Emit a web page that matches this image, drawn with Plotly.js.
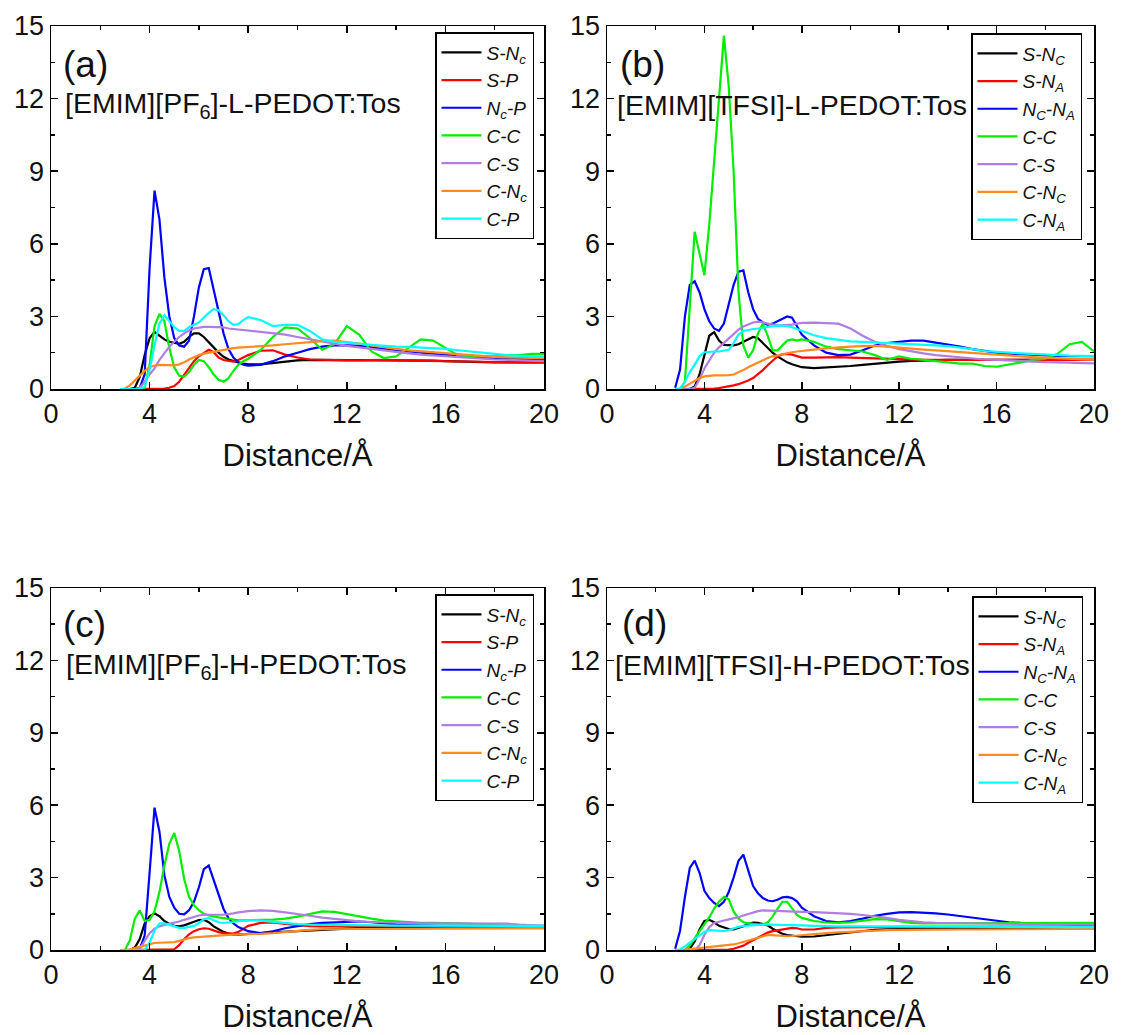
<!DOCTYPE html>
<html>
<head>
<meta charset="utf-8">
<script src="https://cdn.plot.ly/plotly-3.0.1.min.js"></script>
<style>html,body{margin:0;padding:0;background:#fff;}#chart{width:1121px;height:1035px;}</style>
</head>
<body>
<div id="chart"></div>
<script>
// Distance grid (Å)
const distance = [2.8,3.0,3.2,3.4,3.6,3.8,4.0,4.2,4.4,4.6,4.8,5.0,5.2,5.4,5.6,5.8,6.0,6.2,6.4,6.6,6.8,7.0,7.2,7.4,7.6,7.8,8.0,
  8.5,9,9.5,10,10.5,11,11.5,12,12.5,13,13.5,14,14.5,15,15.5,16,16.5,17,17.5,18,18.5,19,19.5,20];

// Panel (a) [EMIM][PF6]-L-PEDOT:Tos
const a_SNc = [0,0,0,0.05,0.5,1.4,2.1,2.35,2.2,2.05,1.95,1.9,1.87,1.95,2.15,2.3,2.3,2.15,1.95,1.72,1.5,1.33,1.22,1.15,1.1,1.05,1.02,
  1.02,1.08,1.15,1.18,1.2,1.2,1.2,1.2,1.2,1.2,1.2,1.2,1.19,1.18,1.17,1.15,1.13,1.12,1.11,1.1,1.1,1.1,1.1,1.1];
const a_SP = [0,0,0,0,0,0,0,0,0,0.02,0.05,0.12,0.3,0.6,0.9,1.15,1.35,1.5,1.62,1.52,1.3,1.2,1.15,1.13,1.2,1.3,1.4,
  1.58,1.6,1.42,1.3,1.22,1.2,1.18,1.18,1.18,1.2,1.2,1.18,1.17,1.16,1.15,1.14,1.13,1.12,1.12,1.11,1.1,1.1,1.1,1.1];
const a_NcP = [0,0,0,0,0.05,0.6,5.0,8.2,7.0,4.6,3.0,2.1,1.8,1.75,2.0,3.0,4.2,4.95,5.0,4.1,3.2,2.3,1.65,1.3,1.1,1.0,0.97,
  1.0,1.15,1.35,1.5,1.65,1.75,1.8,1.8,1.78,1.72,1.65,1.6,1.55,1.5,1.45,1.4,1.35,1.32,1.3,1.28,1.25,1.22,1.2,1.2];
const a_CC = [0,0,0,0,0,0.05,1.0,2.6,3.1,2.8,1.7,0.9,0.55,0.5,0.7,1.0,1.2,1.15,0.9,0.6,0.38,0.3,0.45,0.75,1.0,1.15,1.25,
  1.6,2.15,2.55,2.5,2.1,1.62,1.85,2.6,2.25,1.55,1.28,1.35,1.7,2.05,2.0,1.7,1.4,1.35,1.35,1.35,1.4,1.4,1.45,1.45];
const a_CS = [0,0,0,0,0.05,0.3,0.6,0.85,1.2,1.5,1.75,1.95,2.15,2.3,2.42,2.5,2.55,2.57,2.57,2.56,2.56,2.55,2.5,2.48,2.45,2.42,2.42,
  2.38,2.32,2.25,2.15,2.05,1.95,1.85,1.78,1.72,1.65,1.58,1.52,1.47,1.42,1.38,1.35,1.32,1.28,1.25,1.22,1.2,1.18,1.17,1.15];
const a_CNc = [0,0.02,0.15,0.35,0.55,0.75,0.9,0.97,1.0,1.0,0.98,0.98,1.02,1.1,1.22,1.32,1.4,1.46,1.5,1.55,1.6,1.63,1.66,1.69,1.71,1.72,1.73,
  1.76,1.8,1.85,1.9,1.95,1.98,2.0,1.95,1.88,1.8,1.72,1.66,1.6,1.56,1.5,1.46,1.42,1.38,1.35,1.33,1.31,1.3,1.28,1.27];
const a_CP = [0,0,0,0,0,0.1,0.8,1.8,2.7,3.05,2.8,2.55,2.4,2.4,2.55,2.65,2.75,2.95,3.15,3.3,3.25,3.05,2.8,2.65,2.68,2.85,2.97,
  2.85,2.6,2.65,2.65,2.4,2.05,1.95,1.92,1.88,1.82,1.78,1.75,1.74,1.72,1.7,1.66,1.6,1.56,1.5,1.45,1.4,1.37,1.35,1.33];

// Panel (b) [EMIM][TFSI]-L-PEDOT:Tos
const b_SNc = [0,0,0,0,0.1,0.6,1.4,2.2,2.35,2.0,1.82,1.8,1.8,1.85,1.95,2.05,2.15,2.1,1.9,1.7,1.5,1.35,1.22,1.1,1.02,0.95,0.9,
  0.86,0.88,0.92,0.95,1.0,1.05,1.1,1.13,1.16,1.18,1.2,1.2,1.2,1.2,1.2,1.2,1.2,1.2,1.2,1.2,1.2,1.2,1.2,1.2];
const b_SNa = [0,0,0,0,0,0,0,0.01,0.02,0.04,0.07,0.1,0.15,0.2,0.27,0.35,0.45,0.6,0.78,0.98,1.18,1.35,1.43,1.45,1.42,1.35,1.3,
  1.3,1.32,1.32,1.3,1.28,1.27,1.25,1.22,1.2,1.2,1.2,1.2,1.2,1.2,1.2,1.2,1.2,1.2,1.2,1.2,1.2,1.2,1.2,1.2];
const b_NcNa = [0.05,0.8,3.0,4.3,4.45,4.0,3.3,2.8,2.5,2.4,2.7,3.5,4.3,4.85,4.9,4.0,3.3,2.9,2.75,2.65,2.7,2.8,2.9,3.0,2.95,2.6,2.25,
  1.8,1.5,1.4,1.42,1.6,1.8,1.9,1.95,2.0,2.0,1.92,1.85,1.75,1.65,1.56,1.5,1.46,1.43,1.4,1.38,1.37,1.36,1.36,1.36];
const b_CC = [0,0,0.3,3.5,6.5,5.6,4.7,6.8,9.5,12.3,14.6,12.5,9.0,4.0,1.8,1.3,1.6,2.3,2.7,2.2,1.6,1.6,1.8,2.0,2.05,2.0,2.05,
  1.95,1.75,1.65,1.6,1.55,1.4,1.2,1.35,1.25,1.2,1.15,1.07,1.05,1.05,0.95,0.92,1.0,1.1,1.2,1.25,1.45,1.85,1.95,1.55];
const b_CS = [0,0,0,0,0.05,0.4,0.85,1.2,1.5,1.72,1.9,2.1,2.3,2.45,2.58,2.68,2.75,2.78,2.76,2.7,2.65,2.63,2.63,2.64,2.66,2.7,2.73,
  2.74,2.73,2.7,2.5,2.2,1.95,1.78,1.65,1.55,1.47,1.4,1.35,1.3,1.25,1.22,1.2,1.17,1.15,1.13,1.11,1.1,1.08,1.07,1.06];
const b_CNc = [0,0.02,0.1,0.22,0.35,0.45,0.52,0.55,0.56,0.56,0.56,0.57,0.6,0.68,0.78,0.9,1.0,1.1,1.2,1.28,1.35,1.4,1.45,1.48,1.52,1.55,1.58,
  1.63,1.68,1.73,1.75,1.77,1.78,1.75,1.7,1.67,1.63,1.6,1.56,1.53,1.5,1.46,1.42,1.38,1.35,1.32,1.29,1.26,1.24,1.22,1.2];
const b_CNa = [0,0.02,0.3,0.7,1.0,1.35,1.52,1.55,1.55,1.55,1.57,1.62,1.9,2.25,2.4,2.45,2.48,2.5,2.54,2.58,2.6,2.62,2.62,2.6,2.55,2.48,2.38,
  2.22,2.1,2.02,1.97,1.95,1.93,1.9,1.88,1.85,1.82,1.8,1.77,1.72,1.65,1.57,1.52,1.5,1.47,1.44,1.42,1.4,1.38,1.37,1.36];

// Panel (c) [EMIM][PF6]-H-PEDOT:Tos
const c_SNc = [0,0,0,0.1,0.45,1.1,1.4,1.52,1.4,1.2,1.08,1.0,0.98,1.02,1.1,1.18,1.24,1.25,1.15,0.98,0.85,0.75,0.68,0.64,0.64,0.66,0.68,
  0.7,0.73,0.76,0.79,0.82,0.85,0.88,0.9,0.92,0.94,0.95,0.96,0.96,0.97,0.97,0.97,0.97,0.97,0.97,0.97,0.97,0.97,0.97,0.97];
const c_SP = [0,0,0,0,0,0,0,0,0,0,0,0.03,0.2,0.45,0.65,0.78,0.86,0.9,0.88,0.8,0.74,0.7,0.68,0.68,0.75,0.88,1.0,
  1.12,1.14,1.08,1.02,0.99,0.98,0.98,0.98,0.98,0.98,0.98,0.98,0.98,0.98,0.98,0.98,0.98,0.98,0.98,0.98,0.98,0.98,0.98,0.98];
const c_NcP = [0,0,0,0,0.05,0.6,3.2,5.9,4.9,3.1,2.2,1.75,1.5,1.48,1.65,2.0,2.6,3.35,3.5,2.9,2.3,1.7,1.32,1.1,0.95,0.85,0.78,
  0.7,0.77,0.9,1.0,1.07,1.12,1.15,1.18,1.18,1.15,1.1,1.06,1.04,1.02,1.01,1.0,1.0,1.0,1.0,1.0,1.0,1.0,1.0,1.0];
const c_CC = [0,0,0.4,1.3,1.65,1.2,1.25,1.6,2.4,3.5,4.4,4.85,4.1,2.95,2.2,1.85,1.65,1.5,1.43,1.38,1.35,1.32,1.28,1.25,1.23,1.23,1.24,
  1.25,1.26,1.3,1.38,1.5,1.6,1.58,1.48,1.38,1.3,1.22,1.18,1.15,1.13,1.12,1.12,1.1,1.08,1.05,1.02,1.0,0.97,0.94,0.92];
const c_CS = [0,0,0,0,0.05,0.4,0.7,0.88,0.98,1.04,1.08,1.12,1.18,1.25,1.32,1.38,1.43,1.46,1.47,1.47,1.46,1.46,1.48,1.52,1.56,1.59,1.61,
  1.64,1.62,1.56,1.5,1.42,1.34,1.28,1.22,1.19,1.16,1.14,1.12,1.11,1.1,1.1,1.1,1.1,1.1,1.09,1.09,1.09,1.05,1.02,1.0];
const c_CNc = [0,0,0.02,0.08,0.13,0.18,0.25,0.29,0.3,0.3,0.31,0.33,0.38,0.44,0.49,0.52,0.54,0.56,0.58,0.6,0.61,0.62,0.63,0.64,0.64,0.65,0.65,
  0.67,0.7,0.75,0.79,0.83,0.86,0.87,0.87,0.87,0.87,0.87,0.87,0.87,0.88,0.88,0.88,0.88,0.89,0.89,0.89,0.9,0.9,0.9,0.9];
const c_CP = [0,0,0,0,0,0,0.3,0.8,1.1,1.1,1.05,0.97,0.92,0.92,0.95,1.0,1.12,1.28,1.32,1.25,1.15,1.12,1.13,1.16,1.19,1.21,1.23,
  1.22,1.17,1.11,1.07,1.05,1.04,1.03,1.02,1.02,1.02,1.01,1.01,1.01,1.01,1.0,1.0,1.0,1.0,1.0,1.0,1.0,1.0,1.0,1.0];

// Panel (d) [EMIM][TFSI]-H-PEDOT:Tos
const d_SNc = [0,0,0,0.05,0.35,0.85,1.2,1.25,1.15,1.0,0.92,0.87,0.85,0.9,0.98,1.08,1.14,1.13,1.08,1.02,0.88,0.76,0.67,0.62,0.59,0.56,0.55,
  0.56,0.62,0.68,0.74,0.8,0.84,0.86,0.88,0.88,0.89,0.89,0.89,0.9,0.9,0.9,0.9,0.9,0.9,0.9,0.9,0.9,0.9,0.9,0.9];
const d_SNa = [0,0,0,0,0,0,0,0,0,0,0,0.02,0.05,0.1,0.18,0.3,0.4,0.5,0.62,0.72,0.78,0.82,0.85,0.88,0.92,0.9,0.85,
  0.85,0.92,0.94,0.95,0.95,0.95,0.96,0.96,0.96,0.96,0.97,0.97,0.97,0.97,0.97,0.97,0.98,0.98,0.98,0.98,0.98,0.98,0.98,0.98];
const d_NcNa = [0.05,0.8,2.2,3.4,3.7,3.2,2.45,2.15,1.95,1.82,2.0,2.4,3.0,3.7,3.95,3.3,2.65,2.35,2.15,2.05,2.02,2.08,2.18,2.2,2.15,2.02,1.75,
  1.4,1.2,1.15,1.2,1.3,1.42,1.5,1.56,1.57,1.55,1.52,1.47,1.4,1.34,1.27,1.2,1.15,1.12,1.1,1.08,1.07,1.06,1.05,1.05];
const d_CC = [0,0,0,0.2,0.5,0.8,1.05,1.35,1.72,2.0,2.2,2.1,1.6,1.3,1.15,1.1,1.08,1.05,1.05,1.15,1.38,1.7,2.0,2.0,1.7,1.45,1.33,
  1.2,1.14,1.12,1.15,1.22,1.28,1.27,1.18,1.12,1.1,1.1,1.1,1.1,1.1,1.1,1.1,1.1,1.1,1.1,1.1,1.1,1.12,1.12,1.12];
const d_CS = [0,0,0,0,0,0.2,0.62,0.95,1.12,1.17,1.21,1.25,1.3,1.36,1.43,1.5,1.56,1.61,1.64,1.63,1.62,1.61,1.61,1.6,1.6,1.59,1.58,
  1.57,1.55,1.53,1.5,1.45,1.4,1.33,1.25,1.19,1.15,1.13,1.12,1.1,1.1,1.09,1.08,1.08,1.07,1.07,1.06,1.06,1.05,1.05,1.05];
const d_CNc = [0,0,0.02,0.04,0.06,0.08,0.1,0.12,0.14,0.16,0.18,0.2,0.23,0.28,0.34,0.41,0.47,0.53,0.58,0.62,0.62,0.6,0.58,0.57,0.58,0.6,0.61,
  0.65,0.7,0.73,0.76,0.78,0.8,0.82,0.83,0.84,0.84,0.85,0.85,0.85,0.85,0.86,0.86,0.86,0.86,0.86,0.87,0.87,0.87,0.87,0.87];
const d_CNa = [0,0.02,0.15,0.3,0.45,0.6,0.75,0.82,0.8,0.77,0.78,0.83,0.9,0.96,1.0,1.02,1.04,1.05,1.05,1.05,1.05,1.05,1.05,1.05,1.05,1.04,1.02,
  1.0,0.98,0.98,0.98,0.98,0.98,0.97,0.97,0.97,0.97,0.97,0.96,0.96,0.96,0.96,0.96,0.96,0.95,0.95,0.95,0.95,0.95,0.95,0.95];

// Legend labels
const namesPF6 = ["S-N<sub>c</sub>","S-P","N<sub>c</sub>-P","C-C","C-S","C-N<sub>c</sub>","C-P"];
const namesTFSI = ["S-N<sub>C</sub>","S-N<sub>A</sub>","N<sub>C</sub>-N<sub>A</sub>","C-C","C-S","C-N<sub>C</sub>","C-N<sub>A</sub>"];
const colors = ["#000000","#ff0000","#0000ff","#00ee00","#b07ee0","#ff8a1e","#00ffff"];
const panelLabels = ["(a)","(b)","(c)","(d)"];
const panelTexts = ["[EMIM][PF<sub>6</sub>]-L-PEDOT:Tos","[EMIM][TFSI]-L-PEDOT:Tos","[EMIM][PF<sub>6</sub>]-H-PEDOT:Tos","[EMIM][TFSI]-H-PEDOT:Tos"];
const xTitle = "Distance/Å";

const panels = [
  {series:[a_SNc,a_SP,a_NcP,a_CC,a_CS,a_CNc,a_CP], names:namesPF6},
  {series:[b_SNc,b_SNa,b_NcNa,b_CC,b_CS,b_CNc,b_CNa], names:namesTFSI},
  {series:[c_SNc,c_SP,c_NcP,c_CC,c_CS,c_CNc,c_CP], names:namesPF6},
  {series:[d_SNc,d_SNa,d_NcNa,d_CC,d_CS,d_CNc,d_CNa], names:namesTFSI}
];

const FONT = "Liberation Sans, Arial, sans-serif";
const traces = [];
panels.forEach((p, pi) => {
  const k = pi === 0 ? "" : String(pi + 1);
  p.series.forEach((ys, si) => {
    traces.push({
      type: "scatter", mode: "lines", x: distance, y: ys,
      name: "<i>" + p.names[si] + "</i>",
      xaxis: "x" + k, yaxis: "y" + k,
      legend: "legend" + k,
      line: {color: colors[si], width: 2.2}
    });
  });
});

const W = 1121, H = 1035;
const colX = [[51,544],[607,1094]];
const rowY = [[26,389],[588,950]];
function xdom(c){return [colX[c][0]/W, colX[c][1]/W];}
function ydom(r){return [1-rowY[r][1]/H, 1-rowY[r][0]/H];}

const layout = {
  width: W, height: H,
  margin: {l:0, r:0, t:0, b:0},
  paper_bgcolor: "#fff", plot_bgcolor: "#fff",
  font: {family: FONT, color: "#111"},
  showlegend: true,
  annotations: []
};

const legendPos = [[534,32],[1082,33],[534,594],[1083,596]];
const labelPos = [[0.020,0.893],[0.023,0.893],[0.020,0.900],[0.026,0.902]];
const textPos = [[0.024,0.782],[0.016,0.782],[0.026,0.785],[0.012,0.787]];

for (let i = 0; i < 4; i++) {
  const k = i === 0 ? "" : String(i + 1);
  const c = i % 2, r = Math.floor(i / 2);
  const axCommon = {
    showline: true, linecolor: "#000", linewidth: 1.5, mirror: "ticks",
    ticks: "inside", ticklen: 7, tickwidth: 1.5, tickcolor: "#000",
    showgrid: false, zeroline: false,
    tickfont: {size: 27, family: FONT, color: "#111"}
  };
  layout["xaxis" + k] = Object.assign({}, axCommon, {
    domain: xdom(c), anchor: "y" + k, range: [0, 20], dtick: 4, tick0: 0,
    minor: {ticks: "inside", ticklen: 4, dtick: 2, tickwidth: 1.5, tickcolor: "#000"},
    title: {text: xTitle, font: {size: 31, family: FONT, color: "#111"}, standoff: 16}
  });
  layout["yaxis" + k] = Object.assign({}, axCommon, {
    domain: ydom(r), anchor: "x" + k, range: [0, 15], dtick: 3, tick0: 0,
    minor: {ticks: "inside", ticklen: 4, dtick: 1.5, tickwidth: 1.5, tickcolor: "#000"}
  });
  layout["legend" + k] = {
    x: legendPos[i][0] / W, y: 1 - legendPos[i][1] / H,
    xanchor: "right", yanchor: "top",
    bgcolor: "#fff", bordercolor: "#000", borderwidth: 1.5,
    font: {size: 19, family: FONT, color: "#111"},
    itemwidth: 40, tracegroupgap: 0
  };
  layout.annotations.push({
    xref: "x" + k + " domain", yref: "y" + k + " domain",
    x: labelPos[i][0], y: labelPos[i][1], xanchor: "left", yanchor: "middle",
    text: panelLabels[i], showarrow: false,
    font: {size: 37, family: FONT, color: "#111"}
  });
  layout.annotations.push({
    xref: "x" + k + " domain", yref: "y" + k + " domain",
    x: textPos[i][0], y: textPos[i][1], xanchor: "left", yanchor: "middle",
    text: panelTexts[i], showarrow: false,
    font: {size: 28.5, family: FONT, color: "#111"}
  });
}

Plotly.newPlot("chart", traces, layout, {displayModeBar: false, staticPlot: true});
</script>
</body>
</html>
